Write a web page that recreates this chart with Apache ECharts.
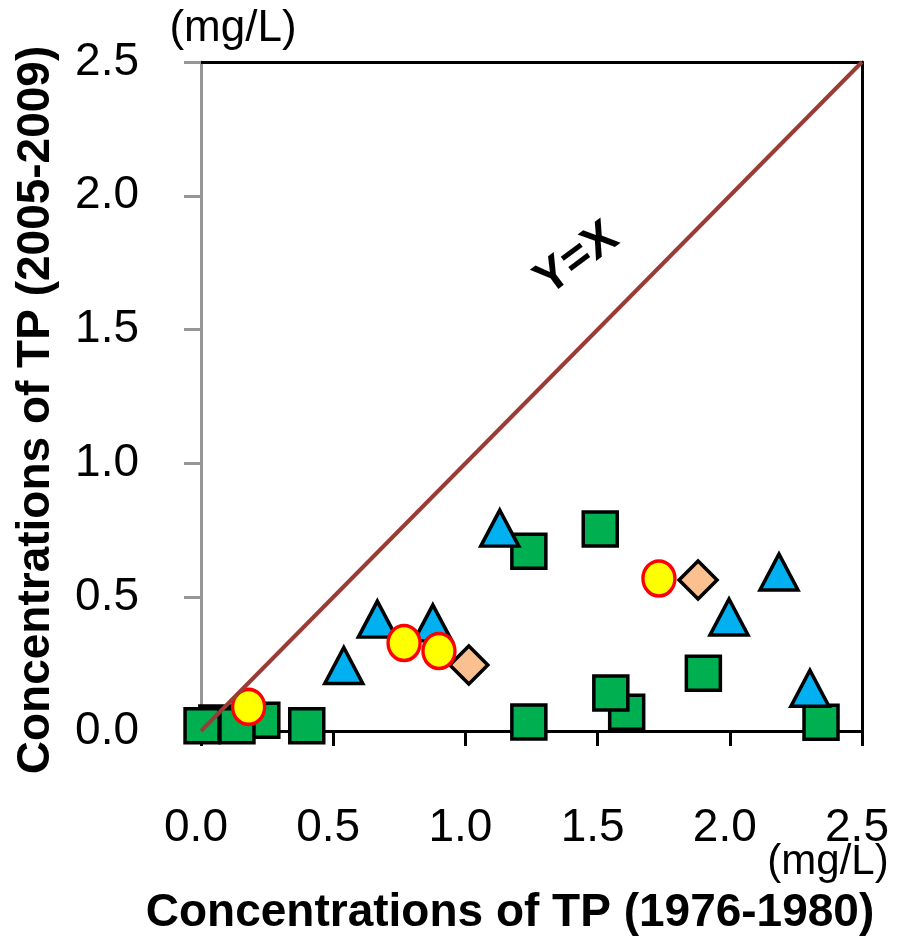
<!DOCTYPE html>
<html>
<head>
<meta charset="utf-8">
<script src="https://cdn.jsdelivr.net/npm/echarts@6/dist/echarts.min.js"></script>
<style>
  html, body { margin: 0; padding: 0; background: #ffffff; }
  #chart { width: 903px; height: 942px; }
</style>
</head>
<body>
<div id="chart"></div>
<script>
// Axis range shared by both concentration axes (mg/L)
const axisMin = 0;
const axisMax = 2.5;
const axisStep = 0.5;

// TP concentration pairs: [1976-1980, 2005-2009]
const squareSites = [
  [0.06, 0.03], [0.23, 0.04], [0.004, 0.02], [0.136, 0.02], [0.40, 0.02],
  [1.24, 0.672], [1.51, 0.755], [1.24, 0.034], [1.61, 0.07], [1.55, 0.142],
  [1.90, 0.216], [2.345, 0.033]
];
const diamondSites = [[1.013, 0.247], [1.88, 0.564]];
const triangleSites = [
  [0.54, 0.245], [0.667, 0.418], [0.877, 0.404], [1.13, 0.758],
  [1.997, 0.426], [2.186, 0.594], [2.303, 0.16]
];
const circleSites = [[0.18, 0.09], [0.768, 0.329], [0.90, 0.299], [1.732, 0.57]];

// Reference line Y = X
const equalityLine = [[0, 0], [2.5, 2.5]];

const FONT = "'Liberation Sans', Arial, sans-serif";

const chart = echarts.init(document.getElementById('chart'), null, { renderer: 'canvas' });

function txt(style) {
  return Object.assign({
    fontFamily: FONT,
    fill: '#000000',
    align: 'center', textAlign: 'center',
    verticalAlign: 'middle', textVerticalAlign: 'middle'
  }, style);
}

chart.setOption({
  animation: false,
  backgroundColor: '#ffffff',
  grid: { left: 201, right: 41, top: 62, bottom: 211, containLabel: false },
  xAxis: [
    {
      type: 'value', position: 'bottom',
      min: axisMin, max: axisMax, interval: axisStep,
      axisLine: { show: true, onZero: false, lineStyle: { color: '#000000', width: 3 } },
      axisTick: { show: true, inside: false, length: 15, lineStyle: { color: '#000000', width: 3 } },
      axisLabel: {
        margin: 74, fontSize: 46, fontFamily: FONT, color: '#000000',
        padding: [0, 10, 0, 0],
        formatter: v => v.toFixed(1)
      },
      splitLine: { show: false }
    },
    {
      type: 'value', position: 'top',
      min: axisMin, max: axisMax, interval: axisStep,
      axisLine: { show: true, onZero: false, lineStyle: { color: '#000000', width: 3 } },
      axisTick: { show: false }, axisLabel: { show: false }, splitLine: { show: false }
    }
  ],
  yAxis: [
    {
      type: 'value', position: 'left',
      min: axisMin, max: axisMax, interval: axisStep,
      axisLine: { show: true, onZero: false, lineStyle: { color: '#969696', width: 3 } },
      axisTick: { show: true, inside: false, length: 17, lineStyle: { color: '#969696', width: 3 } },
      axisLabel: {
        margin: 62, fontSize: 46, fontFamily: FONT, color: '#000000',
        formatter: v => v.toFixed(1)
      },
      splitLine: { show: false }
    },
    {
      type: 'value', position: 'right',
      min: axisMin, max: axisMax, interval: axisStep,
      axisLine: { show: true, onZero: false, lineStyle: { color: '#000000', width: 3 } },
      axisTick: { show: false }, axisLabel: { show: false }, splitLine: { show: false }
    }
  ],
  series: [
    {
      name: 'squares', type: 'scatter', data: squareSites, clip: false, z: 2,
      symbol: 'rect', symbolSize: 34,
      itemStyle: { color: '#00B050', borderColor: '#000000', borderWidth: 3.5, opacity: 1 }
    },
    {
      name: 'diamonds', type: 'scatter', data: diamondSites, clip: false, z: 3,
      symbol: 'diamond', symbolSize: 38,
      itemStyle: { color: '#FAC090', borderColor: '#000000', borderWidth: 3.5, opacity: 1 }
    },
    {
      name: 'triangles', type: 'scatter', data: triangleSites, clip: false, z: 4,
      symbol: 'triangle', symbolSize: [38, 36],
      itemStyle: { color: '#00B0F0', borderColor: '#000000', borderWidth: 3.5, opacity: 1 }
    },
    {
      name: 'circles', type: 'scatter', data: circleSites, clip: false, z: 5,
      symbol: 'circle', symbolSize: [32, 35],
      itemStyle: { color: '#FFFF00', borderColor: '#FF0000', borderWidth: 3.5, opacity: 1 }
    },
    {
      name: 'Y=X', type: 'line', data: equalityLine, clip: false, z: 6,
      symbol: 'none', silent: true,
      lineStyle: { color: '#9B3B36', width: 4 }
    }
  ],
  graphic: [
    { type: 'text', x: 233, y: 29, style: txt({ text: '(mg/L)', fontSize: 44 }) },
    { type: 'text', x: 828, y: 862, style: txt({ text: '(mg/L)', fontSize: 42 }) },
    { type: 'text', x: 510, y: 913,
      style: txt({ text: 'Concentrations of TP (1976-1980)', fontSize: 46, fontWeight: 'bold' }) },
    { type: 'text', x: 36, y: 410, rotation: Math.PI / 2,
      style: txt({ text: 'Concentrations of TP (2005-2009)', fontSize: 46, fontWeight: 'bold' }) },
    { type: 'text', x: 577, y: 259, rotation: 0.64,
      style: txt({ text: 'Y=X', fontSize: 47, fontWeight: 'bold' }) }
  ]
});
</script>
</body>
</html>
